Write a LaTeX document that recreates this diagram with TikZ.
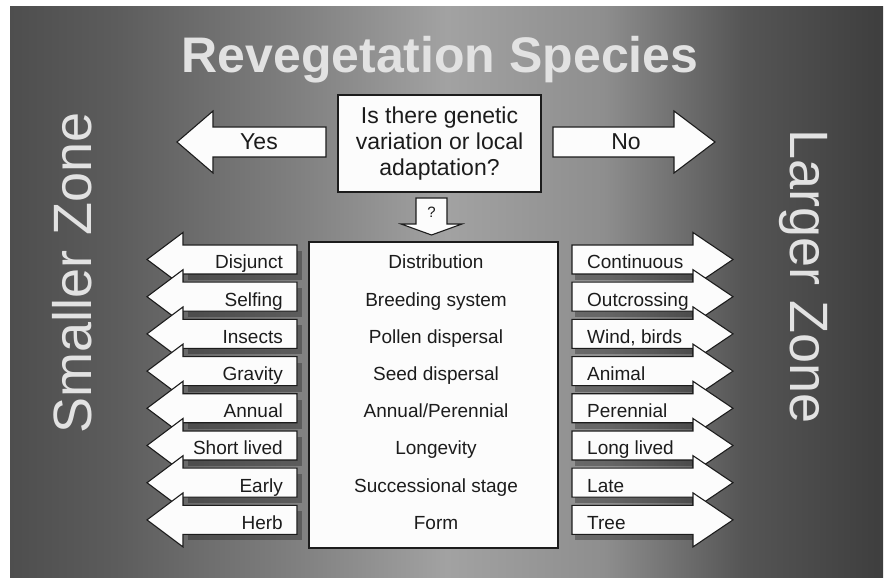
\documentclass[tikz,border=0pt]{standalone}
\usepackage{fontspec}
\setmainfont{Liberation Sans}
\usetikzlibrary{positioning,calc}
\definecolor{grey900}{HTML}{1C1C1C}
\definecolor{grey750}{HTML}{3E3E3E}
\definecolor{grey700}{HTML}{4E4E4E}
\definecolor{grey650}{HTML}{555555}
\definecolor{grey600}{HTML}{5C5C5C}
\definecolor{grey450}{HTML}{808080}
\definecolor{grey350}{HTML}{8E8E8E}
\definecolor{grey300}{HTML}{A2A2A2}
\definecolor{chalk}  {HTML}{E2E2E2}
\definecolor{paper}  {HTML}{FCFCFC}
\pgfdeclarehorizontalshading{slideshade}{100bp}{color(0bp)=(grey700);
  color(25bp)=(grey700); color(31bp)=(grey600); color(41.5bp)=(grey450);
  color(50bp)=(grey300); color(59bp)=(grey350); color(67bp)=(grey650);
  color(75bp)=(grey750); color(100bp)=(grey750)}
\newcommand{\sizefont}[2]{\fontsize{#1}{#2}\selectfont}
\tikzset{
  slide/.style ={shading=slideshade},
  arw/.style   ={draw=grey900, line width=1.1pt, fill=paper, line join=miter},
  shad/.style  ={fill=black, opacity=0.28},
  box/.style   ={draw=grey900, line width=1.1pt, fill=paper, align=center},
  lab/.style   ={text=grey900, font=\sizefont{19}{23}, inner sep=0pt},
  ask/.style   ={text=grey900, font=\sizefont{23}{26}, align=center, inner sep=0pt},
  ttl/.style   ={text=chalk, font=\bfseries\sizefont{50}{60}, inner sep=0pt},
  zone/.style  ={text=chalk, font=\sizefont{54}{60}, inner sep=0pt}
}
\begin{document}
\begin{tikzpicture}[x=1pt, y=1pt]
\useasboundingbox (0,0) rectangle (886,578);
\shade[slide] (10,0) rectangle (883,571);

\node[ttl, anchor=base] (title) at (440,505) {Revegetation Species};
\node[zone, rotate=90, anchor=base] (small) at (91,305) {Smaller Zone};
\node[zone, rotate=-90, anchor=base] (large) at (790,301) {Larger Zone};

\node[box, ask, minimum width=203pt, minimum height=97pt] (quest) at (439.5,434.5)
  {Is there genetic\\ variation or local\\ adaptation?};
\filldraw[arw] (326,451) -- (213,451) -- (213,467) -- (177,436) -- (213,405)
  -- (213,421) -- (326,421) -- cycle;
\node[ask] (yes) at (259,436) {Yes};
\filldraw[arw] (553,451) -- (674,451) -- (674,467) -- (715,436) -- (674,405)
  -- (674,421) -- (553,421) -- cycle;
\node[ask] (no) at (626,436) {No};
\filldraw[arw] (416,380) -- (447,380) -- (447,354) -- (462,354) -- (431.5,343)
  -- (401,354) -- (416,354) -- cycle;
\node[lab, font=\sizefont{15}{17}] (qmark) at (431.5,366) {?};

\node[box, minimum width=249pt, minimum height=306pt] (attr) at (433.5,183) {};
\foreach \lt/\mt/\rt [count=\i] in {Disjunct/Distribution/Continuous,
    Selfing/Breeding system/Outcrossing, Insects/Pollen dispersal/{Wind, birds},
    Gravity/Seed dispersal/Animal, Annual/Annual\slash Perennial/Perennial,
    Short lived/Longevity/Long lived, Early/Successional stage/Late,
    Herb/Form/Tree}{
  \pgfmathsetmacro\yy{318.5-37.2*(\i-1)}
  \fill[shad] (188,\yy-20.5) rectangle (302,\yy+8.5);
  \fill[shad] (575,\yy-20.5) rectangle (696,\yy+8.5);
  \filldraw[arw] (297,\yy+14.5) -- (183,\yy+14.5) -- (183,\yy+27) -- (147,\yy)
    -- (183,\yy-27) -- (183,\yy-14.5) -- (297,\yy-14.5) -- cycle;
  \filldraw[arw] (572,\yy+14.5) -- (693,\yy+14.5) -- (693,\yy+27) -- (733,\yy)
    -- (693,\yy-27) -- (693,\yy-14.5) -- (572,\yy-14.5) -- cycle;
  \node[lab, anchor=base east] (l\i) at (283,\yy-9.5) {\lt};
  \node[lab, anchor=base] (m\i) at (436,\yy-9.5) {\mt};
  \node[lab, anchor=base west] (r\i) at (587,\yy-9.5) {\rt};
}
\end{tikzpicture}
\end{document}
